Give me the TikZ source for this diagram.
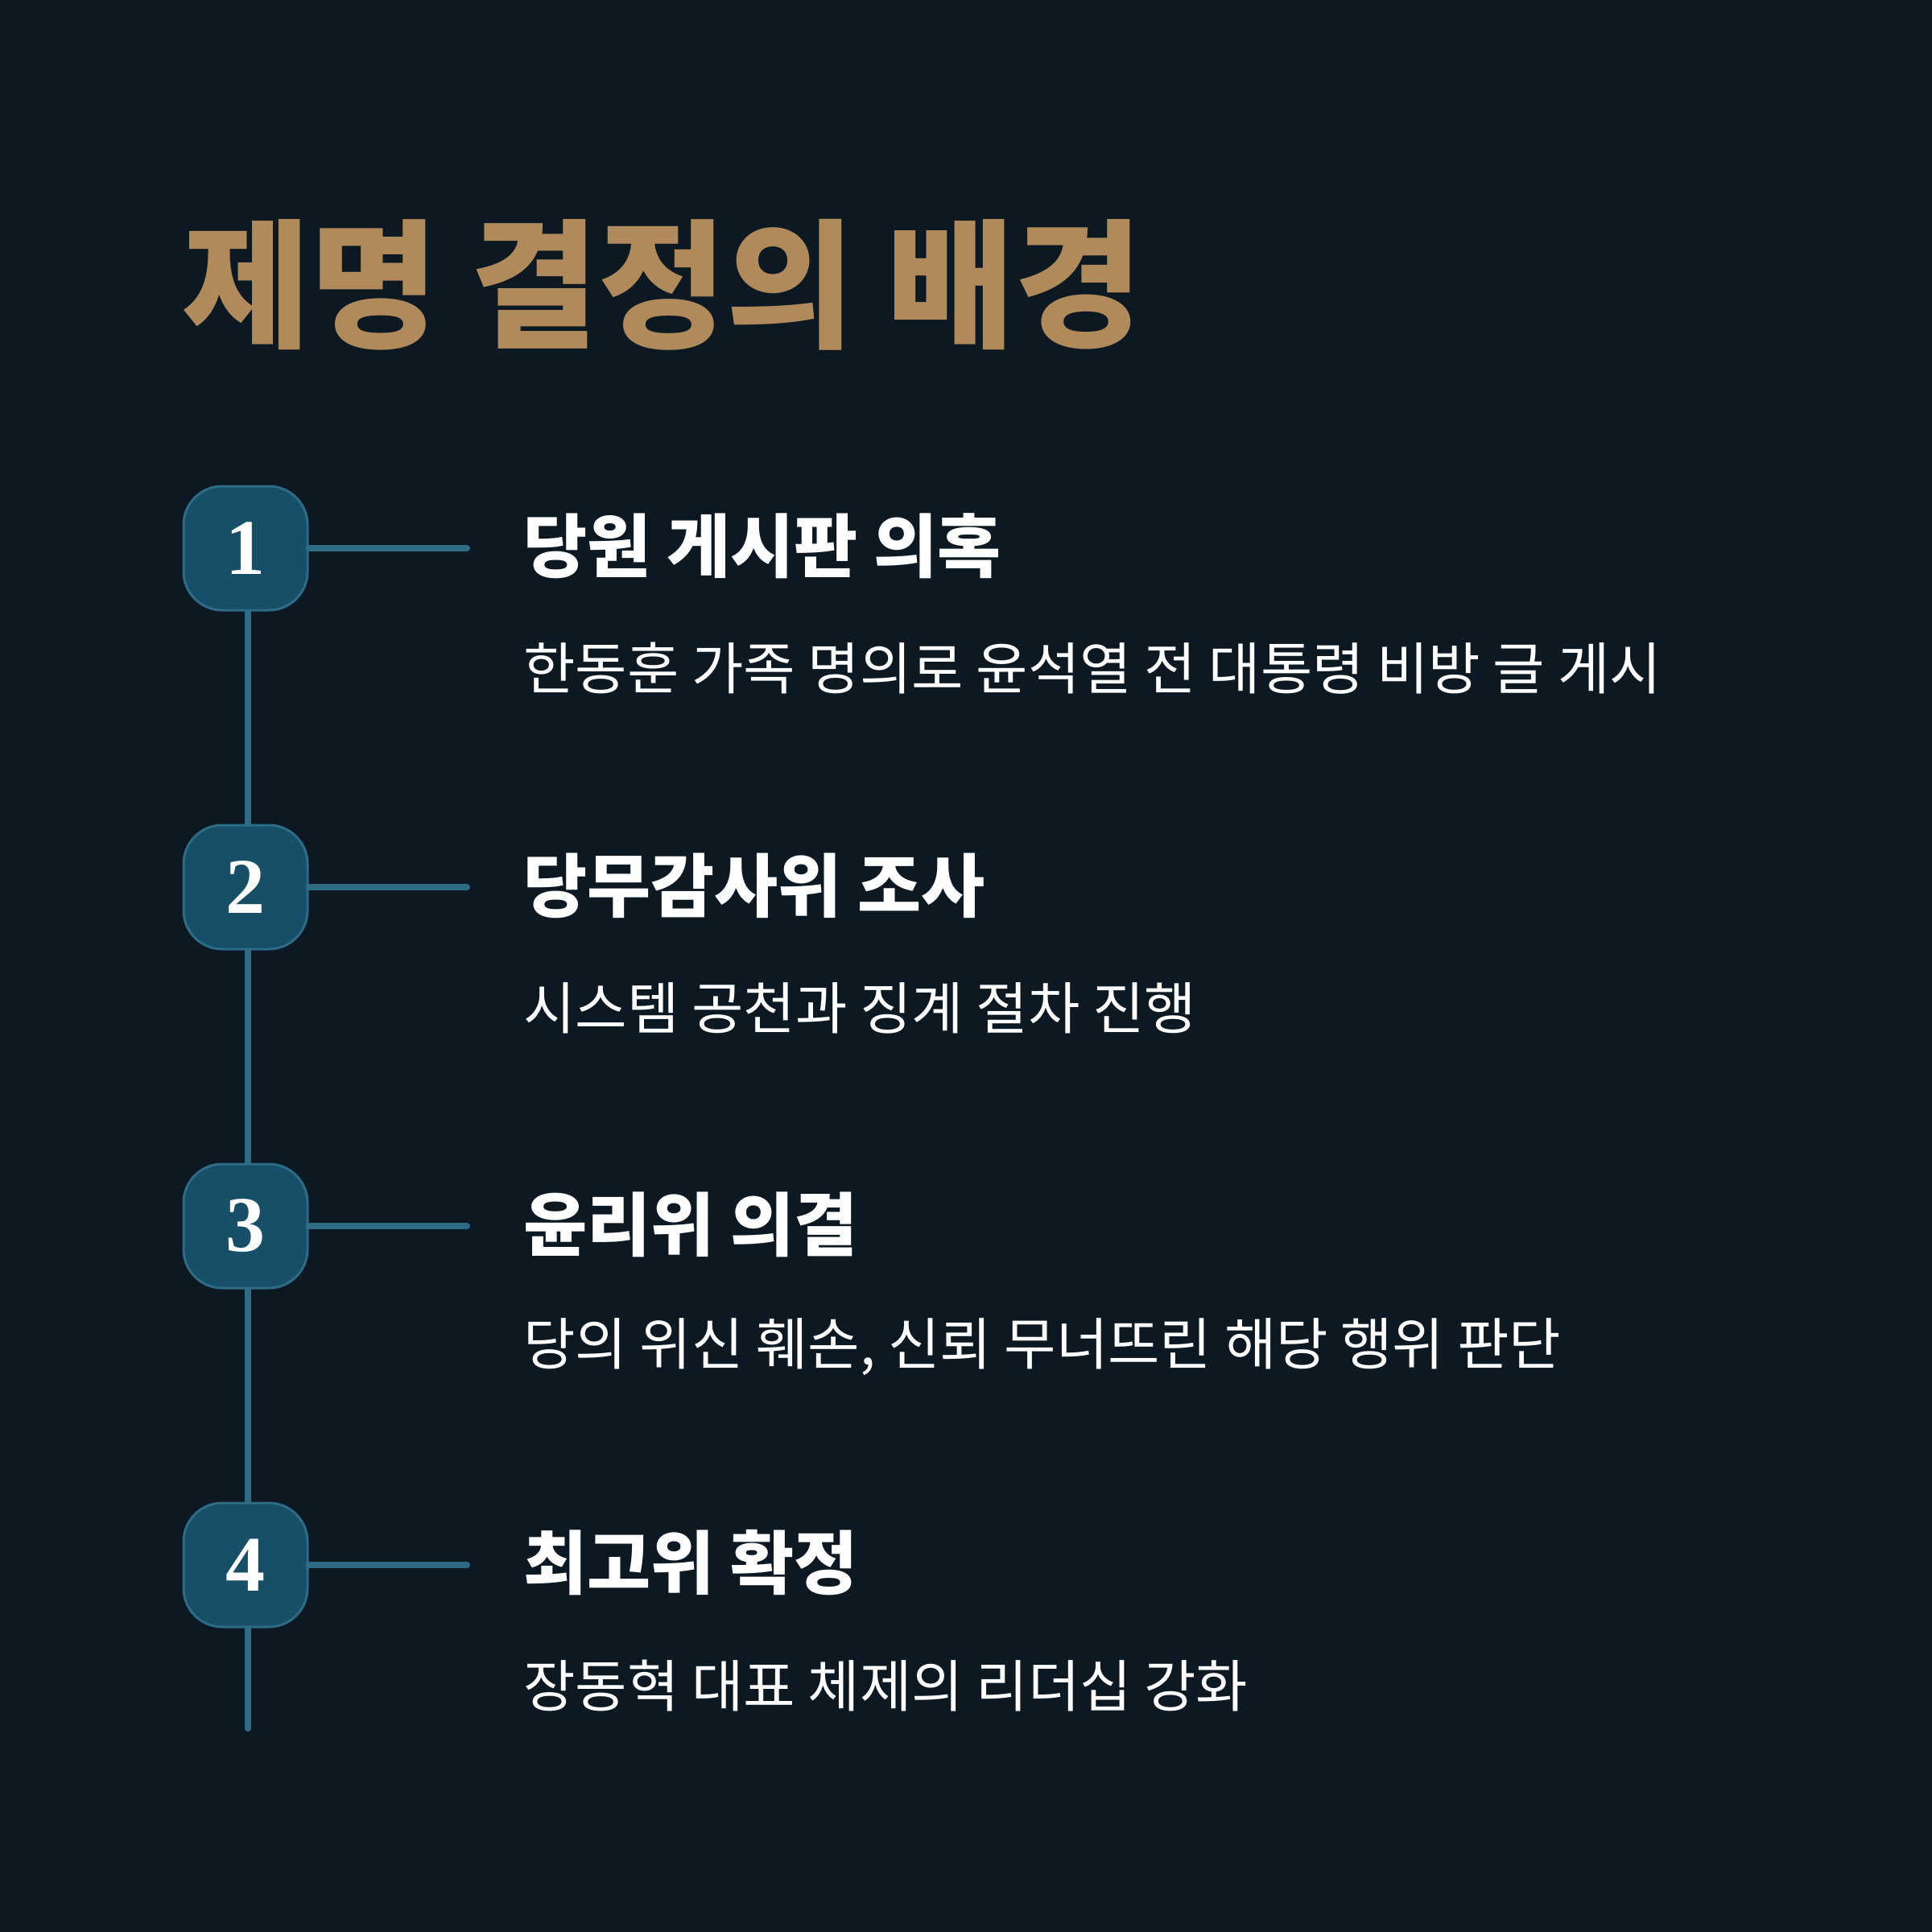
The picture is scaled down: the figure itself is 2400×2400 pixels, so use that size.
\documentclass[tikz,border=0pt]{standalone}
\usepackage{fontspec}
\newfontfamily\kr{Noto Sans CJK KR}
\newfontfamily\numfont{Liberation Serif}
\definecolor{bg}{HTML}{0C1923}
\definecolor{gold}{HTML}{B08A5A}
\definecolor{boxfill}{HTML}{174F68}
\definecolor{boxline}{HTML}{2E6B86}
\tikzset{
  numbox/.style={draw=boxline, fill=boxfill, line width=1.5pt, rounded corners=24pt,
    minimum width=77pt, minimum height=77pt, inner sep=0pt, text=white,
    font=\numfont\bfseries\fontsize{49}{49}\selectfont},
  conn/.style={draw=boxline, line width=4pt, line cap=round},
  headtxt/.style={anchor=west, inner sep=0pt, text=white, font=\kr\bfseries\fontsize{43}{43}\selectfont},
  subtxt/.style={anchor=west, inner sep=0pt, text=white, font=\kr\fontsize{35}{35}\selectfont},
  titletxt/.style={anchor=west, inner sep=0pt, text=gold, font=\kr\bfseries\fontsize{86.5}{86.5}\selectfont}
}
\begin{document}
\begin{tikzpicture}[x=0.5pt, y=-0.5pt]
\fill[bg] (0,0) rectangle (2400,2400);
\useasboundingbox (0,0) rectangle (2400,2400);
\node[titletxt] (title) at (226,354) {제명 결정의 배경};
\coordinate (linestart) at (308,681);
\coordinate (lineend) at (308,2147);
\coordinate (h1) at (580,681);
\coordinate (h2) at (580,1102);
\coordinate (h3) at (580,1523);
\coordinate (h4) at (580,1944);
\draw[conn] (linestart) -- (lineend);
\node[numbox] (b1) at (305,681) {\raisebox{-3pt}{1}};
\node[numbox] (b2) at (305,1102) {\raisebox{-2pt}{2}};
\node[numbox] (b3) at (305,1523) {\raisebox{-2pt}{3}};
\node[numbox] (b4) at (305,1944) {\raisebox{-2pt}{4}};
\draw[conn] (b1.east) -- (h1);
\draw[conn] (b2.east) -- (h2);
\draw[conn] (b3.east) -- (h3);
\draw[conn] (b4.east) -- (h4);
\node[headtxt] (t1) at (650,678) {당원 게시판 의혹};
\node[subtxt] (s1) at (650,830) {한동훈 가족 명의로 윤석열 전 대통령 비방 글 게시};
\node[headtxt] (t2) at (650,1100) {당무감사위 조사};
\node[subtxt] (s2) at (650,1252) {시스템 공천과 징계 절차 진행};
\node[headtxt] (t3) at (650,1521) {윤리위 의결};
\node[subtxt] (s3) at (650,1673) {당의 위신 훼손, 신뢰 무너뜨린 해당 행위 판단};
\node[headtxt] (t4) at (650,1941) {최고위 확정};
\node[subtxt] (s4) at (650,2094) {장동혁 대표 체제의 리더십 강화};
\end{tikzpicture}
\end{document}
